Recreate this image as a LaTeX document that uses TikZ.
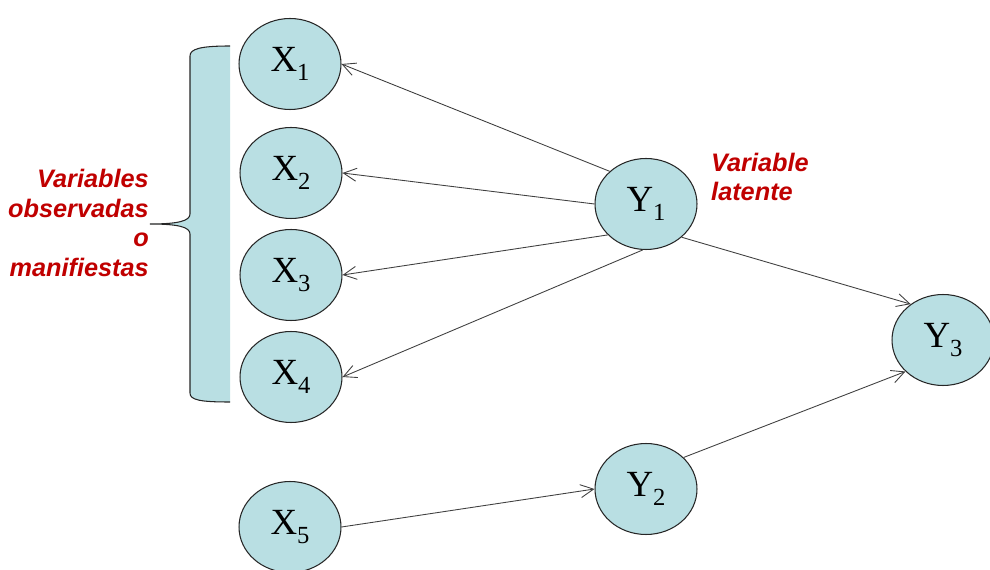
\documentclass[tikz,border=0pt]{standalone}
\usepackage{fontspec}
\setmainfont{Liberation Serif}
\newfontfamily\notefont{Liberation Sans}
\usetikzlibrary{arrows.meta,shapes.geometric}
\definecolor{varfill}{RGB}{185,223,227}
\definecolor{notered}{RGB}{192,0,0}
\tikzset{>={Straight Barb[length=2.6mm,width=2.6mm]}}
\newcommand{\vname}[2]{\raisebox{-2pt}{#1\raisebox{-5pt}{\fontsize{14}{14}\selectfont #2}}}
\tikzset{
  var/.style={ellipse, draw=black!85, fill=varfill, line width=0.6pt,
    minimum width=2.04cm, minimum height=1.82cm, inner sep=0pt,
    font=\fontsize{21}{22}\selectfont},
  link/.style={->, draw=black!75, line width=0.5pt},
  note/.style={text=notered, font=\notefont\bfseries\itshape\fontsize{14.4}{17}\selectfont}
}

\begin{document}
\begin{tikzpicture}[x=0.02cm,y=-0.02cm]
\useasboundingbox (0,0) rectangle (990,570);
% brace round the observed variables
\path[fill=varfill, draw=black!85, line width=0.6pt]
  (230,46) .. controls (200,46) and (190,49) .. (190,56) -- (190,214)
  .. controls (190,221) and (178,224) .. (150,224)
  .. controls (178,224) and (190,227) .. (190,234) -- (190,393)
  .. controls (190,400) and (200,402) .. (230,402);
\node[note, align=right, anchor=east] (obs) at (155,223) {Variables\\observadas\\o\\manifiestas};
\node[note, align=left, anchor=west] (lat) at (705,177) {Variable\\latente};

\node[var] (X1) at (290,64) {\vname{X}{1}};
\node[var] (X2) at (291,173) {\vname{X}{2}};
\node[var] (X3) at (291,275) {\vname{X}{3}};
\node[var] (X4) at (291,377) {\vname{X}{4}};
\node[var] (X5) at (290,527) {\vname{X}{5}};
\node[var] (Y1) at (646,204) {\vname{Y}{1}};
\node[var] (Y2) at (646,489) {\vname{Y}{2}};
\node[var] (Y3) at (943,340) {\vname{Y}{3}};

\draw[link] (Y1.138) -- (X1.east);
\draw[link] (Y1.west) -- (X2.east);
\draw[link] (Y1.219) -- (X3.east);
\draw[link] (Y1.266) -- (X4.east);
\draw[link] (Y1.317) -- (Y3.132);
\draw[link] (X5.east) -- (Y2.west);
\draw[link] (Y2.40) -- (Y3.220);
\end{tikzpicture}
\end{document}
